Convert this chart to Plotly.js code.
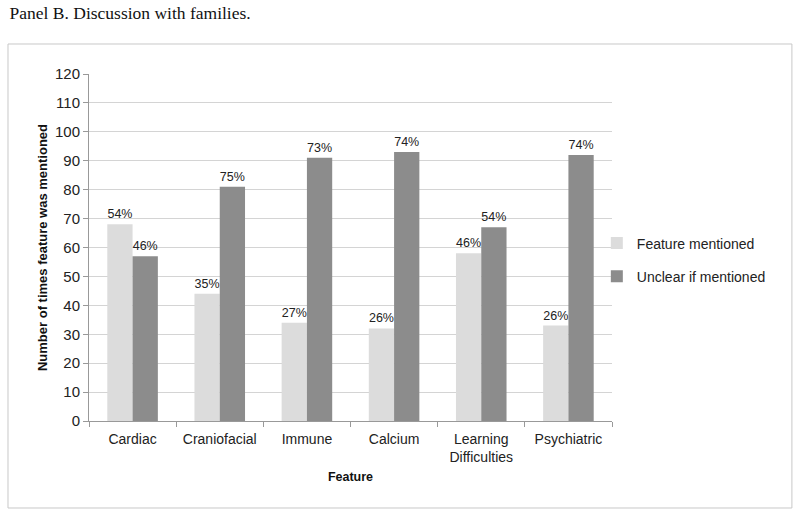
<!DOCTYPE html>
<html>
<head>
<meta charset="utf-8">
<script src="https://cdn.plot.ly/plotly-3.0.1.min.js"></script>
<style>html,body{margin:0;padding:0;background:#fff;}#chart{width:800px;height:517px;}</style>
</head>
<body>
<div id="chart"></div>
<script>
var categories = ["Cardiac", "Craniofacial", "Immune", "Calcium", "Learning<br>Difficulties", "Psychiatric"];
var mentioned = [68, 44, 34, 32, 58, 33];
var mentionedPct = ["54%", "35%", "27%", "26%", "46%", "26%"];
var unclear = [57, 81, 91, 93, 67, 92];
var unclearPct = ["46%", "75%", "73%", "74%", "54%", "74%"];
var yTicks = [0, 10, 20, 30, 40, 50, 60, 70, 80, 90, 100, 110, 120];

var font = "Liberation Sans, Arial, sans-serif";
var traces = [
  {type: "bar", name: "Feature mentioned", legendgroup: "a", x: categories, y: mentioned, text: mentionedPct,
   textposition: "outside", textfont: {family: font, size: 12.5, color: "#222"},
   marker: {color: "#dcdcdc"}, cliponaxis: false, hoverinfo: "x+y"},
  {type: "bar", name: "Unclear if mentioned", legendgroup: "b", x: categories, y: unclear, text: unclearPct,
   textposition: "outside", textfont: {family: font, size: 12.5, color: "#222"},
   marker: {color: "#8c8c8c"}, cliponaxis: false, hoverinfo: "x+y"}
];
var layout = {
  width: 800, height: 517,
  margin: {l: 89, r: 188, t: 74, b: 96, autoexpand: false},
  paper_bgcolor: "#fff", plot_bgcolor: "#fff",
  font: {family: font, size: 14, color: "#222"},
  barmode: "group", bargap: 0.42, bargroupgap: 0,
  title: {text: "Panel B. Discussion with families.", x: 0.012, xanchor: "left", y: 0.975, yanchor: "middle",
          font: {family: "Liberation Serif, Times New Roman, serif", size: 17.5, color: "#111"}},
  xaxis: {type: "category", tickson: "boundaries", ticks: "outside", ticklen: 5, tickcolor: "#999",
          ticklabelstandoff: 5, automargin: false,
          showline: true, linecolor: "#999", linewidth: 1, showgrid: false,
          tickfont: {family: font, size: 14, color: "#222"},
          title: {text: "<b>Feature</b>", font: {family: font, size: 12.5, color: "#111"}, standoff: 8}},
  yaxis: {range: [0, 120], tickvals: yTicks, ticks: "outside", ticklen: 5, tickcolor: "#999",
          automargin: false,
          showline: true, linecolor: "#999", linewidth: 1, showgrid: true, gridcolor: "#d4d4d4",
          zeroline: false, tickfont: {family: font, size: 15, color: "#222"},
          title: {text: "<b>Number of times feature was mentioned</b>", font: {family: font, size: 13, color: "#111"}, standoff: 4}},
  legend: {x: 0.971, y: 0.464, xanchor: "left", yanchor: "middle", font: {family: font, size: 14, color: "#222"},
           itemwidth: 30, traceorder: "grouped", tracegroupgap: 12, bgcolor: "rgba(0,0,0,0)"},
  shapes: [{type: "rect", xref: "paper", yref: "paper", x0: -0.1549, x1: 1.344, y0: -0.2507, y1: 1.0865,
            line: {color: "#c8c8c8", width: 1}, fillcolor: "rgba(0,0,0,0)", layer: "below"}],
  showlegend: true
};
Plotly.newPlot("chart", traces, layout, {displayModeBar: false, staticPlot: true});
</script>
</body>
</html>
